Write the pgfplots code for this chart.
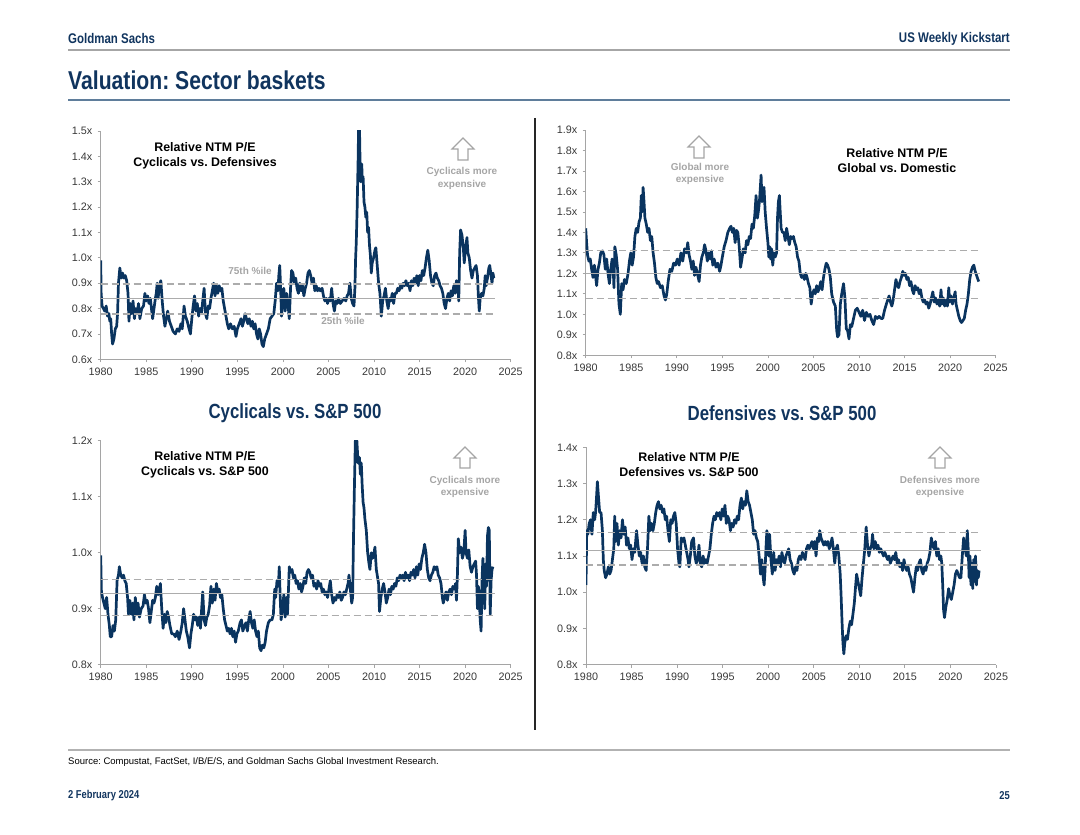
\documentclass[border=0pt]{standalone}
\usepackage{fontspec}
\setmainfont{Liberation Sans}
\newfontfamily\narrowfont[FakeStretch=0.82]{Liberation Sans}
\usepackage{pgfplots}
\pgfplotsset{compat=1.18}
\frenchspacing

\definecolor{gsnavy}{RGB}{16,52,94}
\definecolor{lineblue}{RGB}{10,52,95}
\definecolor{pctgray}{RGB}{172,172,172}
\definecolor{axgray}{RGB}{165,165,165}
\definecolor{notegray}{RGB}{165,165,165}
\definecolor{titlerule}{RGB}{95,125,155}

\pgfplotsset{
  panel/.style={
    scale only axis, width=410pt, anchor=south west,
    xmin=1980, xmax=2025, xtick={1980,1985,...,2025},
    axis lines*=left,
    axis line style={draw=axgray, line width=0.9pt},
    tick style={draw=axgray, line width=0.8pt},
    tick align=outside, major tick length=3pt,
    ticklabel style={font=\fontsize{10.8}{12}\selectfont, text=black!78},
    /pgf/number format/assume math mode=true,
    xticklabel style={/pgf/number format/1000 sep={}, yshift=-2pt},
    yticklabel style={xshift=-2pt},
    yticklabel={\pgfmathprintnumber[fixed,fixed zerofill,precision=1]{\tick}x},
  },
  series/.style={lineblue, line width=2.7pt, line join=round},
  pctl/.style={pctgray, line width=1.3pt, dash pattern=on 7pt off 4pt},
  pmed/.style={pctgray, line width=1.3pt},
}

% hollow up-arrow: centre x, tip y, base y (in pt)
\newcommand{\uparr}[3]{\draw[notegray, line width=1.1pt, line join=miter]
  (#1pt,#2pt) -- ({(#1+11)*1pt},{(#2-11)*1pt}) -- ({(#1+5)*1pt},{(#2-11)*1pt}) -- ({(#1+5)*1pt},#3pt)
  -- ({(#1-5)*1pt},#3pt) -- ({(#1-5)*1pt},{(#2-11)*1pt}) -- ({(#1-11)*1pt},{(#2-11)*1pt}) -- cycle;}

\begin{document}
\begin{tikzpicture}
\path[use as bounding box] (0pt,0pt) rectangle (1080pt,835pt);

% Cyclicals vs Defensives
\begin{axis}[panel, at={(100.7pt,475.7pt)}, height=228.3pt, ymin=0.6, ymax=1.5,
  ytick={0.6,0.7,0.8,0.9,1.0,1.1,1.2,1.3,1.4,1.5}]
\addplot[series] coordinates {
(1980.00,0.99) (1980.05,0.86) (1980.15,0.81) (1980.30,0.80) (1980.45,0.79) (1980.60,0.81) (1980.75,0.77) (1980.90,0.78)
(1981.00,0.75) (1981.10,0.76) (1981.20,0.70) (1981.30,0.66) (1981.45,0.68) (1981.60,0.72) (1981.75,0.73) (1981.85,0.78)
(1981.95,0.90) (1982.10,0.96) (1982.25,0.92) (1982.40,0.94) (1982.55,0.92) (1982.70,0.93) (1982.85,0.91) (1983.00,0.86)
(1983.10,0.75) (1983.25,0.82) (1983.40,0.78) (1983.55,0.83) (1983.70,0.76) (1983.85,0.80) (1984.00,0.78) (1984.15,0.82)
(1984.30,0.76) (1984.50,0.80) (1984.70,0.81) (1984.85,0.86) (1985.00,0.83) (1985.15,0.85) (1985.30,0.82) (1985.45,0.84)
(1985.60,0.79) (1985.70,0.76) (1985.85,0.80) (1986.00,0.84) (1986.10,0.86) (1986.20,0.90) (1986.30,0.84) (1986.45,0.89)
(1986.60,0.91) (1986.75,0.83) (1986.90,0.77) (1987.05,0.73) (1987.20,0.76) (1987.35,0.79) (1987.55,0.75) (1987.75,0.73)
(1987.95,0.71) (1988.20,0.70) (1988.40,0.72) (1988.60,0.71) (1988.80,0.74) (1988.95,0.72) (1989.15,0.81) (1989.30,0.77)
(1989.50,0.75) (1989.70,0.72) (1989.85,0.70) (1990.00,0.76) (1990.15,0.81) (1990.30,0.85) (1990.45,0.79) (1990.60,0.82)
(1990.75,0.77) (1990.90,0.80) (1991.05,0.78) (1991.20,0.83) (1991.35,0.88) (1991.50,0.78) (1991.65,0.76) (1991.80,0.81)
(1991.95,0.80) (1992.10,0.84) (1992.25,0.87) (1992.40,0.90) (1992.55,0.85) (1992.70,0.89) (1992.85,0.86) (1993.00,0.89)
(1993.15,0.87) (1993.30,0.88) (1993.45,0.83) (1993.60,0.80) (1993.75,0.77) (1993.90,0.74) (1994.05,0.72) (1994.25,0.74)
(1994.45,0.72) (1994.65,0.73) (1994.85,0.69) (1995.00,0.72) (1995.20,0.74) (1995.40,0.76) (1995.55,0.73) (1995.70,0.75)
(1995.85,0.78) (1996.00,0.76) (1996.15,0.74) (1996.30,0.76) (1996.50,0.73) (1996.65,0.75) (1996.80,0.72) (1996.95,0.74)
(1997.10,0.70) (1997.25,0.68) (1997.40,0.72) (1997.55,0.70) (1997.70,0.66) (1997.85,0.65) (1998.00,0.68) (1998.20,0.70)
(1998.40,0.72) (1998.60,0.76) (1998.80,0.77) (1999.00,0.78) (1999.15,0.83) (1999.30,0.90) (1999.45,0.87) (1999.55,0.93)
(1999.65,0.97) (1999.75,0.88) (1999.85,0.77) (2000.00,0.84) (2000.10,0.88) (2000.25,0.79) (2000.40,0.86) (2000.55,0.82)
(2000.70,0.76) (2000.85,0.89) (2000.95,0.95) (2001.10,0.94) (2001.25,0.90) (2001.40,0.92) (2001.55,0.88) (2001.70,0.86)
(2001.85,0.90) (2002.00,0.87) (2002.15,0.89) (2002.30,0.85) (2002.45,0.88) (2002.60,0.90) (2002.75,0.94) (2002.90,0.95)
(2003.05,0.93) (2003.20,0.90) (2003.35,0.92) (2003.50,0.87) (2003.65,0.89) (2003.80,0.87) (2003.95,0.88) (2004.10,0.87)
(2004.30,0.88) (2004.45,0.85) (2004.60,0.83) (2004.75,0.84) (2004.90,0.82) (2005.05,0.84) (2005.20,0.83) (2005.35,0.88)
(2005.50,0.82) (2005.65,0.79) (2005.80,0.83) (2005.95,0.82) (2006.10,0.84) (2006.30,0.82) (2006.50,0.83) (2006.70,0.84)
(2006.90,0.83) (2007.05,0.85) (2007.20,0.86) (2007.35,0.90) (2007.50,0.84) (2007.65,0.82) (2007.80,0.81) (2007.90,0.88)
(2007.98,1.00) (2008.05,1.06) (2008.15,1.20) (2008.25,1.38) (2008.32,1.55) (2008.40,1.52) (2008.48,1.35) (2008.55,1.30)
(2008.65,1.37) (2008.72,1.30) (2008.80,1.32) (2008.90,1.22) (2009.00,1.20) (2009.10,1.16) (2009.20,1.18) (2009.30,1.10)
(2009.40,1.12) (2009.50,1.05) (2009.60,1.01) (2009.70,0.94) (2009.80,0.98) (2009.95,1.00) (2010.10,1.03) (2010.20,1.04)
(2010.35,0.97) (2010.50,0.90) (2010.65,0.86) (2010.80,0.77) (2010.95,0.83) (2011.10,0.85) (2011.25,0.88) (2011.40,0.83)
(2011.55,0.80) (2011.70,0.84) (2011.85,0.83) (2012.00,0.86) (2012.15,0.82) (2012.30,0.86) (2012.45,0.86) (2012.60,0.88)
(2012.75,0.87) (2012.90,0.89) (2013.05,0.88) (2013.20,0.90) (2013.35,0.89) (2013.50,0.91) (2013.65,0.89) (2013.80,0.90)
(2013.95,0.87) (2014.10,0.91) (2014.25,0.89) (2014.40,0.92) (2014.55,0.90) (2014.70,0.93) (2014.85,0.89) (2015.00,0.93)
(2015.15,0.91) (2015.30,0.95) (2015.45,0.93) (2015.60,0.96) (2015.75,1.00) (2015.90,1.03) (2016.05,0.99) (2016.20,0.93)
(2016.35,0.90) (2016.50,0.89) (2016.65,0.93) (2016.80,0.94) (2016.95,0.92) (2017.10,0.91) (2017.25,0.89) (2017.40,0.88)
(2017.55,0.86) (2017.70,0.82) (2017.85,0.80) (2018.00,0.84) (2018.15,0.86) (2018.30,0.83) (2018.45,0.87) (2018.60,0.85)
(2018.75,0.89) (2018.90,0.86) (2019.05,0.91) (2019.20,0.89) (2019.30,0.83) (2019.40,1.02) (2019.50,1.11) (2019.65,1.09)
(2019.80,1.04) (2019.90,0.98) (2020.05,1.04) (2020.20,1.08) (2020.30,1.02) (2020.45,1.00) (2020.60,0.95) (2020.75,0.92)
(2020.90,0.95) (2021.05,0.96) (2021.20,0.97) (2021.35,0.93) (2021.45,0.85) (2021.55,0.79) (2021.65,0.84) (2021.80,0.86)
(2021.95,0.85) (2022.10,0.88) (2022.20,0.93) (2022.30,0.89) (2022.45,0.92) (2022.60,0.96) (2022.70,0.97) (2022.85,0.93)
(2022.95,0.90) (2023.05,0.94) (2023.15,0.92)
};
\addplot[pctl] coordinates {(1980,0.897) (2023.3,0.897)};
\addplot[pmed] coordinates {(1980,0.839) (2023.3,0.839)};
\addplot[pctl] coordinates {(1980,0.779) (2023.3,0.779)};
\end{axis}

% Global vs Domestic
\begin{axis}[panel, at={(585.7pt,479.7pt)}, height=225.3pt, ymin=0.8, ymax=1.9,
  ytick={0.8,0.9,1.0,1.1,1.2,1.3,1.4,1.5,1.6,1.7,1.8,1.9}]
\addplot[series] coordinates {
(1980.00,1.42) (1980.10,1.35) (1980.20,1.29) (1980.35,1.26) (1980.50,1.27) (1980.65,1.22) (1980.80,1.18) (1980.95,1.24)
(1981.05,1.20) (1981.20,1.14) (1981.35,1.22) (1981.50,1.25) (1981.65,1.30) (1981.85,1.31) (1982.00,1.29) (1982.15,1.22)
(1982.30,1.27) (1982.45,1.20) (1982.60,1.15) (1982.75,1.22) (1982.90,1.27) (1983.00,1.25) (1983.10,1.13) (1983.20,1.33)
(1983.35,1.29) (1983.50,1.22) (1983.65,1.05) (1983.80,1.00) (1983.95,1.15) (1984.10,1.12) (1984.25,1.17) (1984.45,1.15)
(1984.65,1.20) (1984.80,1.26) (1984.95,1.30) (1985.10,1.24) (1985.25,1.28) (1985.40,1.38) (1985.55,1.42) (1985.70,1.40)
(1985.85,1.45) (1986.00,1.47) (1986.10,1.58) (1986.20,1.50) (1986.30,1.62) (1986.40,1.55) (1986.50,1.47) (1986.65,1.44)
(1986.80,1.40) (1986.95,1.42) (1987.10,1.36) (1987.25,1.38) (1987.40,1.30) (1987.55,1.25) (1987.70,1.18) (1987.85,1.15)
(1988.00,1.16) (1988.20,1.13) (1988.40,1.14) (1988.60,1.09) (1988.75,1.07) (1988.90,1.10) (1989.05,1.16) (1989.25,1.22)
(1989.45,1.21) (1989.65,1.25) (1989.85,1.24) (1990.05,1.27) (1990.25,1.24) (1990.45,1.30) (1990.65,1.26) (1990.85,1.32)
(1991.05,1.30) (1991.20,1.35) (1991.35,1.29) (1991.50,1.26) (1991.65,1.22) (1991.80,1.26) (1991.95,1.19) (1992.10,1.23)
(1992.25,1.20) (1992.45,1.16) (1992.60,1.24) (1992.75,1.28) (1992.90,1.30) (1993.05,1.34) (1993.20,1.31) (1993.35,1.26)
(1993.50,1.30) (1993.65,1.27) (1993.80,1.31) (1993.95,1.24) (1994.10,1.27) (1994.30,1.23) (1994.50,1.25) (1994.70,1.21)
(1994.85,1.24) (1995.00,1.28) (1995.20,1.33) (1995.40,1.36) (1995.60,1.40) (1995.80,1.42) (1995.95,1.43) (1996.10,1.40)
(1996.25,1.42) (1996.40,1.35) (1996.55,1.41) (1996.70,1.40) (1996.85,1.33) (1997.00,1.23) (1997.15,1.27) (1997.30,1.32)
(1997.50,1.30) (1997.65,1.36) (1997.80,1.34) (1997.95,1.38) (1998.10,1.37) (1998.25,1.44) (1998.40,1.42) (1998.55,1.48)
(1998.70,1.58) (1998.85,1.47) (1999.00,1.52) (1999.10,1.57) (1999.25,1.68) (1999.35,1.55) (1999.45,1.60) (1999.57,1.62)
(1999.70,1.50) (1999.85,1.42) (2000.00,1.35) (2000.10,1.28) (2000.20,1.33) (2000.30,1.27) (2000.40,1.32) (2000.53,1.24)
(2000.65,1.30) (2000.80,1.28) (2000.95,1.30) (2001.05,1.47) (2001.15,1.55) (2001.26,1.58) (2001.35,1.50) (2001.45,1.42)
(2001.60,1.40) (2001.75,1.40) (2001.90,1.36) (2002.05,1.42) (2002.20,1.38) (2002.35,1.34) (2002.50,1.38) (2002.65,1.37)
(2002.80,1.38) (2002.95,1.35) (2003.10,1.33) (2003.25,1.28) (2003.40,1.26) (2003.55,1.20) (2003.70,1.18) (2003.85,1.19)
(2004.00,1.17) (2004.15,1.20) (2004.30,1.18) (2004.45,1.15) (2004.60,1.13) (2004.75,1.05) (2004.90,1.10) (2005.05,1.12)
(2005.20,1.10) (2005.35,1.14) (2005.50,1.11) (2005.65,1.13) (2005.80,1.16) (2005.95,1.12) (2006.10,1.18) (2006.25,1.22)
(2006.40,1.25) (2006.55,1.24) (2006.70,1.22) (2006.85,1.18) (2007.00,1.10) (2007.20,1.06) (2007.40,1.04) (2007.55,0.92)
(2007.65,0.89) (2007.80,0.90) (2007.95,1.05) (2008.10,1.10) (2008.30,1.15) (2008.45,1.08) (2008.60,0.93) (2008.75,0.92)
(2008.90,0.88) (2009.05,0.95) (2009.20,0.94) (2009.40,0.98) (2009.60,1.02) (2009.80,1.03) (2010.00,1.01) (2010.20,0.99)
(2010.40,1.02) (2010.60,0.97) (2010.80,1.01) (2011.00,0.99) (2011.20,1.00) (2011.40,0.97) (2011.60,0.95) (2011.80,0.99)
(2012.00,0.98) (2012.20,0.99) (2012.40,0.98) (2012.60,0.98) (2012.80,1.02) (2013.00,1.05) (2013.15,1.07) (2013.30,1.09)
(2013.45,1.06) (2013.60,1.04) (2013.75,1.07) (2013.90,1.12) (2014.05,1.17) (2014.20,1.14) (2014.35,1.13) (2014.50,1.16)
(2014.65,1.18) (2014.80,1.21) (2014.95,1.19) (2015.10,1.20) (2015.25,1.17) (2015.40,1.18) (2015.55,1.14) (2015.70,1.16)
(2015.85,1.12) (2016.00,1.10) (2016.15,1.14) (2016.30,1.12) (2016.45,1.13) (2016.60,1.10) (2016.75,1.12) (2016.90,1.08)
(2017.05,1.06) (2017.20,1.07) (2017.35,1.05) (2017.50,1.06) (2017.65,1.03) (2017.80,1.05) (2017.95,1.08) (2018.10,1.11)
(2018.25,1.06) (2018.40,1.08) (2018.55,1.05) (2018.70,1.07) (2018.85,1.04) (2019.00,1.12) (2019.10,1.05) (2019.25,1.08)
(2019.40,1.04) (2019.55,1.07) (2019.70,1.04) (2019.85,1.13) (2019.95,1.06) (2020.10,1.09) (2020.25,1.05) (2020.40,1.08)
(2020.55,1.11) (2020.65,1.05) (2020.80,1.02) (2020.95,0.99) (2021.10,0.97) (2021.25,0.96) (2021.40,0.97) (2021.55,0.98)
(2021.70,1.02) (2021.85,1.05) (2022.00,1.10) (2022.15,1.17) (2022.30,1.21) (2022.45,1.23) (2022.60,1.24) (2022.75,1.21)
(2022.90,1.19) (2023.05,1.17) (2023.15,1.16)
};
\addplot[pctl] coordinates {(1980,1.311) (2023.3,1.311)};
\addplot[pmed] coordinates {(1980,1.200) (2023.3,1.200)};
\addplot[pctl] coordinates {(1980,1.077) (2023.3,1.077)};
\end{axis}

% Cyclicals vs S&P 500
\begin{axis}[panel, at={(100.7pt,170.3pt)}, height=224pt, ymin=0.8, ymax=1.2,
  ytick={0.8,0.9,1.0,1.1,1.2}]
\addplot[series] coordinates {
(1980.00,0.995) (1980.08,0.93) (1980.20,0.92) (1980.35,0.91) (1980.50,0.90) (1980.65,0.92) (1980.80,0.89) (1980.95,0.87)
(1981.05,0.85) (1981.20,0.85) (1981.35,0.87) (1981.50,0.86) (1981.65,0.88) (1981.80,0.95) (1981.95,0.96) (1982.05,0.975)
(1982.20,0.96) (1982.35,0.955) (1982.50,0.96) (1982.65,0.95) (1982.80,0.945) (1982.95,0.92) (1983.05,0.89) (1983.20,0.915)
(1983.35,0.89) (1983.50,0.91) (1983.65,0.88) (1983.80,0.92) (1983.95,0.89) (1984.10,0.91) (1984.25,0.885) (1984.45,0.90)
(1984.65,0.905) (1984.80,0.925) (1984.95,0.91) (1985.10,0.915) (1985.25,0.90) (1985.40,0.875) (1985.55,0.895) (1985.70,0.915)
(1985.85,0.91) (1986.00,0.92) (1986.15,0.94) (1986.30,0.925) (1986.45,0.935) (1986.55,0.945) (1986.70,0.90) (1986.85,0.865)
(1987.00,0.89) (1987.15,0.875) (1987.30,0.895) (1987.45,0.885) (1987.60,0.87) (1987.80,0.855) (1988.00,0.855) (1988.20,0.85)
(1988.40,0.86) (1988.60,0.845) (1988.80,0.86) (1988.95,0.875) (1989.10,0.90) (1989.25,0.88) (1989.40,0.86) (1989.55,0.85)
(1989.75,0.83) (1989.90,0.855) (1990.05,0.87) (1990.20,0.89) (1990.35,0.88) (1990.50,0.885) (1990.65,0.87) (1990.80,0.885)
(1990.95,0.865) (1991.10,0.905) (1991.20,0.93) (1991.35,0.88) (1991.50,0.87) (1991.65,0.885) (1991.80,0.89) (1991.95,0.905)
(1992.10,0.94) (1992.25,0.91) (1992.40,0.935) (1992.55,0.915) (1992.70,0.945) (1992.85,0.93) (1993.00,0.935) (1993.15,0.92)
(1993.30,0.925) (1993.45,0.90) (1993.60,0.88) (1993.75,0.87) (1993.90,0.86) (1994.05,0.865) (1994.20,0.855) (1994.35,0.865)
(1994.50,0.85) (1994.65,0.86) (1994.80,0.84) (1994.95,0.855) (1995.10,0.86) (1995.30,0.875) (1995.45,0.88) (1995.60,0.86)
(1995.80,0.87) (1995.95,0.875) (1996.10,0.86) (1996.25,0.88) (1996.40,0.895) (1996.55,0.875) (1996.70,0.865) (1996.85,0.88)
(1997.00,0.86) (1997.15,0.85) (1997.30,0.86) (1997.45,0.83) (1997.60,0.825) (1997.75,0.835) (1997.90,0.83) (1998.05,0.84)
(1998.20,0.86) (1998.40,0.875) (1998.60,0.88) (1998.80,0.88) (1998.95,0.89) (1999.10,0.935) (1999.20,0.92) (1999.35,0.95)
(1999.50,0.94) (1999.60,0.975) (1999.70,0.92) (1999.80,0.88) (1999.95,0.90) (2000.10,0.925) (2000.25,0.885) (2000.40,0.92)
(2000.50,0.89) (2000.60,0.93) (2000.70,0.975) (2000.85,0.965) (2001.00,0.97) (2001.15,0.955) (2001.30,0.96) (2001.45,0.945)
(2001.60,0.95) (2001.75,0.935) (2001.90,0.945) (2002.05,0.93) (2002.20,0.94) (2002.35,0.955) (2002.50,0.945) (2002.65,0.965)
(2002.80,0.97) (2002.95,0.965) (2003.10,0.955) (2003.25,0.96) (2003.40,0.94) (2003.55,0.945) (2003.70,0.935) (2003.85,0.95)
(2004.00,0.94) (2004.15,0.945) (2004.30,0.93) (2004.45,0.935) (2004.60,0.925) (2004.75,0.93) (2004.90,0.92) (2005.05,0.935)
(2005.20,0.95) (2005.35,0.925) (2005.50,0.91) (2005.65,0.92) (2005.80,0.915) (2005.95,0.925) (2006.10,0.92) (2006.25,0.93)
(2006.40,0.915) (2006.55,0.92) (2006.70,0.93) (2006.85,0.925) (2007.00,0.935) (2007.15,0.945) (2007.25,0.96) (2007.40,0.935)
(2007.55,0.91) (2007.65,0.92) (2007.75,1.03) (2007.85,1.12) (2007.95,1.20) (2008.05,1.22) (2008.15,1.19) (2008.25,1.16)
(2008.40,1.17) (2008.50,1.14) (2008.60,1.16) (2008.70,1.12) (2008.80,1.09) (2008.90,1.08) (2009.00,1.06) (2009.15,1.04)
(2009.30,1.00) (2009.45,0.98) (2009.55,0.97) (2009.70,1.00) (2009.85,0.99) (2010.00,1.00) (2010.10,1.01) (2010.25,0.97)
(2010.40,0.955) (2010.50,0.945) (2010.60,0.895) (2010.75,0.92) (2010.90,0.935) (2011.05,0.945) (2011.20,0.93) (2011.35,0.91)
(2011.50,0.92) (2011.65,0.935) (2011.80,0.925) (2011.95,0.94) (2012.10,0.935) (2012.25,0.945) (2012.40,0.94) (2012.55,0.955)
(2012.70,0.95) (2012.85,0.96) (2013.00,0.955) (2013.15,0.96) (2013.30,0.95) (2013.45,0.965) (2013.60,0.955) (2013.75,0.96)
(2013.90,0.95) (2014.05,0.965) (2014.20,0.96) (2014.35,0.97) (2014.50,0.955) (2014.65,0.975) (2014.80,0.96) (2014.95,0.98)
(2015.10,0.97) (2015.25,0.99) (2015.40,1.00) (2015.55,1.015) (2015.70,1.00) (2015.85,0.97) (2016.00,0.955) (2016.15,0.95)
(2016.30,0.96) (2016.45,0.965) (2016.60,0.975) (2016.75,0.97) (2016.90,0.975) (2017.05,0.96) (2017.20,0.955) (2017.35,0.945)
(2017.50,0.92) (2017.60,0.91) (2017.75,0.92) (2017.90,0.93) (2018.05,0.915) (2018.20,0.93) (2018.35,0.935) (2018.50,0.925)
(2018.65,0.94) (2018.80,0.935) (2018.95,0.945) (2019.05,0.915) (2019.15,0.96) (2019.25,1.025) (2019.40,1.00) (2019.55,1.01)
(2019.70,0.99) (2019.85,1.00) (2020.00,1.04) (2020.10,1.00) (2020.25,0.99) (2020.40,1.005) (2020.55,0.975) (2020.70,0.965)
(2020.85,0.975) (2021.00,0.98) (2021.15,0.985) (2021.25,0.96) (2021.35,0.90) (2021.45,0.94) (2021.55,0.92) (2021.65,0.88)
(2021.75,0.86) (2021.85,0.95) (2021.95,0.99) (2022.05,0.95) (2022.15,0.90) (2022.25,0.98) (2022.35,0.94) (2022.45,1.03)
(2022.55,1.045) (2022.65,1.04) (2022.75,0.89) (2022.85,0.95) (2022.95,0.97) (2023.05,0.975)
};
\addplot[pctl] coordinates {(1980,0.952) (2023.3,0.952)};
\addplot[pmed] coordinates {(1980,0.927) (2023.3,0.927)};
\addplot[pctl] coordinates {(1980,0.888) (2023.3,0.888)};
\end{axis}

% Defensives vs S&P 500
\begin{axis}[panel, at={(586pt,170.3pt)}, height=217.4pt, ymin=0.8, ymax=1.4,
  ytick={0.8,0.9,1.0,1.1,1.2,1.3,1.4}]
\addplot[series] coordinates {
(1980.00,1.02) (1980.08,1.17) (1980.20,1.16) (1980.35,1.19) (1980.50,1.20) (1980.65,1.16) (1980.80,1.22) (1980.95,1.20)
(1981.05,1.22) (1981.15,1.26) (1981.25,1.305) (1981.35,1.27) (1981.50,1.22) (1981.65,1.22) (1981.80,1.17) (1981.90,1.09)
(1982.00,1.06) (1982.15,1.04) (1982.30,1.05) (1982.45,1.07) (1982.60,1.05) (1982.75,1.06) (1982.90,1.09) (1983.05,1.12)
(1983.15,1.21) (1983.25,1.14) (1983.40,1.19) (1983.55,1.13) (1983.70,1.17) (1983.85,1.15) (1984.00,1.20) (1984.15,1.16)
(1984.30,1.18) (1984.45,1.13) (1984.60,1.15) (1984.75,1.12) (1984.90,1.13) (1985.05,1.09) (1985.20,1.12) (1985.35,1.11)
(1985.55,1.17) (1985.70,1.13) (1985.85,1.10) (1986.00,1.11) (1986.15,1.08) (1986.30,1.10) (1986.45,1.07) (1986.60,1.06)
(1986.75,1.12) (1986.90,1.21) (1987.05,1.17) (1987.20,1.19) (1987.35,1.17) (1987.50,1.19) (1987.65,1.22) (1987.80,1.24)
(1987.95,1.25) (1988.10,1.23) (1988.25,1.24) (1988.40,1.22) (1988.55,1.23) (1988.70,1.20) (1988.85,1.21) (1989.00,1.17)
(1989.15,1.14) (1989.30,1.20) (1989.45,1.19) (1989.60,1.21) (1989.75,1.22) (1989.90,1.19) (1990.05,1.12) (1990.20,1.08)
(1990.30,1.07) (1990.45,1.15) (1990.60,1.14) (1990.75,1.15) (1990.90,1.13) (1991.05,1.11) (1991.20,1.09) (1991.30,1.07)
(1991.45,1.10) (1991.60,1.14) (1991.80,1.15) (1991.95,1.10) (1992.10,1.08) (1992.25,1.09) (1992.40,1.13) (1992.55,1.08)
(1992.70,1.07) (1992.85,1.10) (1993.00,1.08) (1993.15,1.09) (1993.30,1.08) (1993.45,1.10) (1993.60,1.12) (1993.75,1.16)
(1993.90,1.19) (1994.05,1.21) (1994.20,1.20) (1994.35,1.22) (1994.50,1.21) (1994.65,1.22) (1994.80,1.20) (1994.95,1.23)
(1995.10,1.21) (1995.25,1.24) (1995.40,1.19) (1995.55,1.21) (1995.70,1.20) (1995.85,1.17) (1996.00,1.19) (1996.15,1.18)
(1996.30,1.20) (1996.45,1.19) (1996.60,1.21) (1996.75,1.20) (1996.90,1.24) (1997.05,1.26) (1997.20,1.23) (1997.35,1.25)
(1997.50,1.24) (1997.65,1.28) (1997.80,1.25) (1997.95,1.24) (1998.10,1.22) (1998.25,1.20) (1998.40,1.16) (1998.55,1.17)
(1998.70,1.15) (1998.85,1.14) (1999.00,1.10) (1999.15,1.05) (1999.30,1.09) (1999.45,1.04) (1999.55,1.02) (1999.65,1.06)
(1999.75,1.12) (1999.85,1.17) (1999.95,1.14) (2000.05,1.10) (2000.15,1.16) (2000.30,1.09) (2000.45,1.05) (2000.60,1.11)
(2000.75,1.06) (2000.90,1.09) (2001.05,1.08) (2001.20,1.10) (2001.35,1.07) (2001.50,1.11) (2001.65,1.09) (2001.80,1.08)
(2001.95,1.10) (2002.10,1.11) (2002.25,1.12) (2002.40,1.09) (2002.55,1.08) (2002.70,1.06) (2002.85,1.05) (2003.00,1.07)
(2003.15,1.06) (2003.30,1.09) (2003.45,1.10) (2003.60,1.09) (2003.75,1.11) (2003.90,1.10) (2004.05,1.09) (2004.20,1.12)
(2004.35,1.13) (2004.50,1.12) (2004.65,1.13) (2004.80,1.14) (2004.95,1.12) (2005.10,1.14) (2005.25,1.10) (2005.40,1.15)
(2005.55,1.14) (2005.65,1.17) (2005.80,1.15) (2005.95,1.14) (2006.10,1.13) (2006.25,1.14) (2006.40,1.13) (2006.55,1.14)
(2006.70,1.12) (2006.85,1.13) (2007.00,1.15) (2007.15,1.12) (2007.30,1.08) (2007.45,1.12) (2007.60,1.13) (2007.75,1.10)
(2007.90,1.05) (2008.00,0.99) (2008.10,0.92) (2008.20,0.86) (2008.30,0.83) (2008.40,0.86) (2008.55,0.88) (2008.70,0.87)
(2008.85,0.90) (2009.00,0.92) (2009.15,0.91) (2009.30,0.94) (2009.45,0.97) (2009.60,1.02) (2009.70,1.05) (2009.85,1.03)
(2010.00,1.01) (2010.15,0.99) (2010.30,1.04) (2010.45,1.08) (2010.60,1.12) (2010.75,1.18) (2010.90,1.13) (2011.05,1.10)
(2011.20,1.12) (2011.35,1.13) (2011.45,1.16) (2011.60,1.12) (2011.75,1.14) (2011.90,1.12) (2012.05,1.13) (2012.20,1.11)
(2012.35,1.12) (2012.50,1.11) (2012.65,1.10) (2012.80,1.11) (2012.95,1.10) (2013.10,1.09) (2013.25,1.10) (2013.40,1.08)
(2013.55,1.09) (2013.70,1.10) (2013.85,1.09) (2014.00,1.11) (2014.15,1.08) (2014.30,1.09) (2014.45,1.07) (2014.60,1.08)
(2014.75,1.06) (2014.90,1.09) (2015.05,1.07) (2015.20,1.06) (2015.35,1.07) (2015.50,1.05) (2015.65,1.04) (2015.80,1.02)
(2015.95,1.00) (2016.10,1.04) (2016.25,1.07) (2016.40,1.06) (2016.55,1.08) (2016.70,1.09) (2016.85,1.06) (2017.00,1.05)
(2017.15,1.07) (2017.30,1.06) (2017.45,1.08) (2017.60,1.09) (2017.75,1.11) (2017.90,1.15) (2018.05,1.13) (2018.20,1.12)
(2018.35,1.14) (2018.50,1.10) (2018.65,1.12) (2018.80,1.09) (2018.95,1.10) (2019.05,1.08) (2019.15,1.02) (2019.25,0.95)
(2019.35,0.93) (2019.50,0.96) (2019.65,0.98) (2019.80,1.01) (2019.95,0.99) (2020.10,0.98) (2020.25,1.00) (2020.40,1.02)
(2020.55,1.05) (2020.70,1.06) (2020.85,1.05) (2021.00,1.04) (2021.15,1.04) (2021.30,1.10) (2021.45,1.15) (2021.60,1.12)
(2021.75,1.10) (2021.85,1.17) (2021.95,1.12) (2022.05,1.04) (2022.15,1.10) (2022.25,1.02) (2022.35,1.08) (2022.45,1.01)
(2022.55,1.09) (2022.65,1.03) (2022.75,1.10) (2022.85,1.02) (2022.95,1.06) (2023.05,1.04) (2023.15,1.06)
};
\addplot[pctl] coordinates {(1980,1.164) (2023.3,1.164)};
\addplot[pmed] coordinates {(1980,1.115) (2023.3,1.115)};
\addplot[pctl] coordinates {(1980,1.075) (2023.3,1.075)};
\end{axis}

\begin{scope}[x=1pt,y=1pt]
% page header
\node[anchor=west, inner sep=0, text=gsnavy, font=\narrowfont\bfseries\fontsize{14}{16}\selectfont] at (68,796) {Goldman Sachs};
\node[anchor=east, inner sep=0, text=gsnavy, font=\narrowfont\bfseries\fontsize{14}{16}\selectfont] at (1010,796) {US Weekly Kickstart};
\draw[black!35, line width=1.6pt] (68,785) -- (1010,785);
\node[anchor=west, inner sep=0, text=gsnavy, font=\narrowfont\bfseries\fontsize{25.8}{28}\selectfont] at (68,755) {Valuation: Sector baskets};
\draw[titlerule, line width=1.6pt] (68,735) -- (1010,735);

% divider
\draw[black!85, line width=2pt] (535,717) -- (535,105);

% panel notes
\begin{scope}[every node/.style={align=center, inner sep=0}]
\node[font=\bfseries\fontsize{12.4}{15}\selectfont] at (205,679.5) {Relative NTM P/E\\Cyclicals vs. Defensives};
\node[font=\bfseries\fontsize{12.4}{15}\selectfont] at (897,674.5) {Relative NTM P/E\\Global vs. Domestic};
\node[font=\bfseries\fontsize{12.4}{15}\selectfont] at (205,370.5) {Relative NTM P/E\\Cyclicals vs. S\&P 500};
\node[font=\bfseries\fontsize{12.4}{15}\selectfont] at (689,370.5) {Relative NTM P/E\\Defensives vs. S\&P 500};
\node[text=notegray, font=\bfseries\fontsize{10}{12.5}\selectfont] at (462,656.5) {Cyclicals more\\expensive};
\node[text=notegray, font=\bfseries\fontsize{10}{12.5}\selectfont] at (700,661) {Global more\\expensive};
\node[text=notegray, font=\bfseries\fontsize{10}{12.5}\selectfont] at (465,348) {Cyclicals more\\expensive};
\node[text=notegray, font=\bfseries\fontsize{10}{12.5}\selectfont] at (940,348) {Defensives more\\expensive};
\node[text=notegray, font=\bfseries\fontsize{10}{12}\selectfont] at (250,564.3) {75th \%ile};
\node[text=notegray, font=\bfseries\fontsize{10}{12}\selectfont] at (343,514) {25th \%ile};
\end{scope}

% lower panel titles
\node[text=gsnavy, font=\narrowfont\bfseries\fontsize{20.5}{23}\selectfont] at (295,422) {Cyclicals vs. S\&P 500};
\node[text=gsnavy, font=\narrowfont\bfseries\fontsize{20.5}{23}\selectfont] at (782,422) {Defensives vs. S\&P 500};

% footer
\draw[black!30, line width=1.2pt] (68,85) -- (1010,85);
\node[anchor=west, inner sep=0, font=\fontsize{9.5}{11}\selectfont] at (68,73) {Source: Compustat, FactSet, I/B/E/S, and Goldman Sachs Global Investment Research.};
\node[anchor=west, inner sep=0, text=gsnavy, font=\narrowfont\bfseries\fontsize{11.4}{13}\selectfont] at (68,39) {2 February 2024};
\node[anchor=east, inner sep=0, text=gsnavy, font=\narrowfont\bfseries\fontsize{11.4}{13}\selectfont] at (1010,39) {25};
\end{scope}
\uparr{463}{697}{675}
\uparr{699}{699}{677}
\uparr{465}{388}{367}
\uparr{940}{388}{367}
\end{tikzpicture}
\end{document}
